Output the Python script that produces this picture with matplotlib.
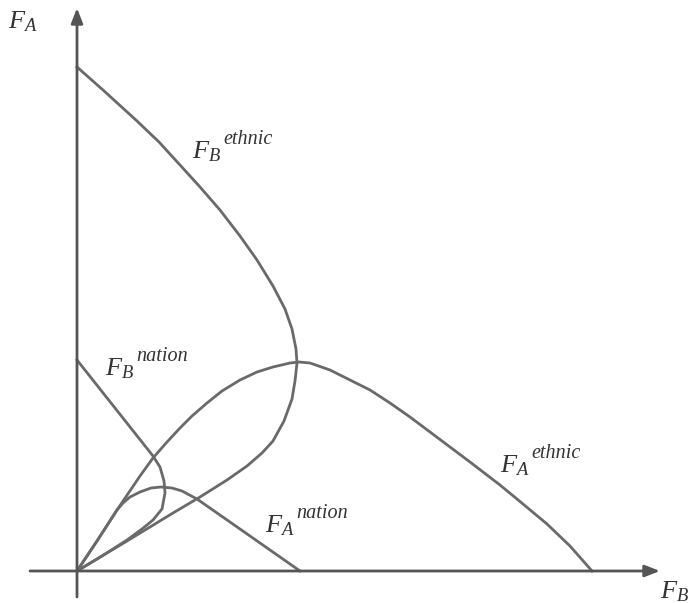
import matplotlib
matplotlib.use("Agg")
import matplotlib.pyplot as plt

# curves: x = F_B, y = F_A
fa_ethnic_x = [0, 0.20, 0.40, 0.63, 0.76, 0.90, 1.03, 1.15, 1.30, 1.45, 1.63, 1.80, 1.96, 2.13, 2.22,
               2.33, 2.53, 2.73, 2.93, 3.13, 3.33, 3.53, 3.73, 3.93, 4.06, 4.23, 4.46, 4.70, 4.93, 5.15]
fa_ethnic_y = [0, 0.30, 0.61, 0.95, 1.13, 1.29, 1.43, 1.55, 1.68, 1.80, 1.91, 1.99, 2.04, 2.08, 2.09,
               2.08, 2.01, 1.91, 1.81, 1.68, 1.54, 1.39, 1.24, 1.09, 0.99, 0.86, 0.67, 0.47, 0.25, 0.0]

fb_ethnic_x = [0, 0.26, 0.60, 0.82, 1.03, 1.23, 1.43, 1.63, 1.80, 1.96, 2.08, 2.15, 2.19, 2.20,
               2.18, 2.15, 2.07, 1.96, 1.85, 1.70, 1.50, 1.23, 0.96, 0.50, 0]
fb_ethnic_y = [5.04, 4.81, 4.50, 4.29, 4.06, 3.84, 3.61, 3.35, 3.11, 2.85, 2.62, 2.42, 2.22, 2.08,
               1.90, 1.72, 1.50, 1.30, 1.18, 1.05, 0.91, 0.74, 0.58, 0.30, 0]

fa_nation_x = [0, 0.20, 0.40, 0.46, 0.53, 0.63, 0.74, 0.84, 0.95, 1.05, 1.20, 1.63, 2.23]
fa_nation_y = [0, 0.30, 0.61, 0.68, 0.74, 0.79, 0.83, 0.84, 0.83, 0.80, 0.72, 0.42, 0.0]

fb_nation_x = [0, 0.38, 0.76, 0.83, 0.87, 0.88, 0.85, 0.76, 0.65, 0.50, 0.25, 0]
fb_nation_y = [2.11, 1.63, 1.15, 1.04, 0.90, 0.78, 0.62, 0.51, 0.42, 0.31, 0.15, 0]

label_main = [r"$F_B$", r"$F_B$", r"$F_A$", r"$F_A$"]
label_sup = ["ethnic", "nation", "nation", "ethnic"]
label_pos = [(1.15, 4.13), (0.28, 1.96), (1.88, 0.39), (4.23, 0.99)]

plt.rcParams["mathtext.fontset"] = "custom"
plt.rcParams["mathtext.it"] = "Liberation Serif:italic"
plt.rcParams["mathtext.rm"] = "Liberation Serif"

fig = plt.figure(figsize=(6.88, 6.03), dpi=100)
ax = fig.add_axes([0, 0, 1, 1])
ax.set_xlim(-0.77, 6.11)
ax.set_ylim(-0.32, 5.71)
ax.axis("off")

line_col = "#6a6a6a"
for xs, ys in [(fa_ethnic_x, fa_ethnic_y), (fb_ethnic_x, fb_ethnic_y),
               (fa_nation_x, fa_nation_y), (fb_nation_x, fb_nation_y)]:
    ax.plot(xs, ys, color=line_col, lw=2.0, solid_joinstyle="round")

# axes with arrows
arrow = dict(arrowstyle="-|>,head_length=0.9,head_width=0.35", color="#555555", lw=2.0,
             shrinkA=0, shrinkB=0)
ax.annotate("", xy=(5.83, 0), xytext=(-0.47, 0), arrowprops=arrow)
ax.annotate("", xy=(0, 5.63), xytext=(0, -0.26), arrowprops=arrow)

txt_col = "#333333"
ax.text(-0.69, 5.43, r"$F_A$", fontsize=19, color=txt_col, ha="left", va="baseline")
ax.text(5.83, -0.27, r"$F_B$", fontsize=19, color=txt_col, ha="left", va="baseline")
for main, sup, (x, y) in zip(label_main, label_sup, label_pos):
    ax.text(x, y, main, fontsize=19, color=txt_col, ha="left", va="baseline")
    ax.text(x + 0.31, y + 0.14, sup, fontsize=14.5, color=txt_col, ha="left", va="baseline",
            family="Liberation Serif", style="italic")

fig.savefig("out.png", dpi=100, facecolor="white")
